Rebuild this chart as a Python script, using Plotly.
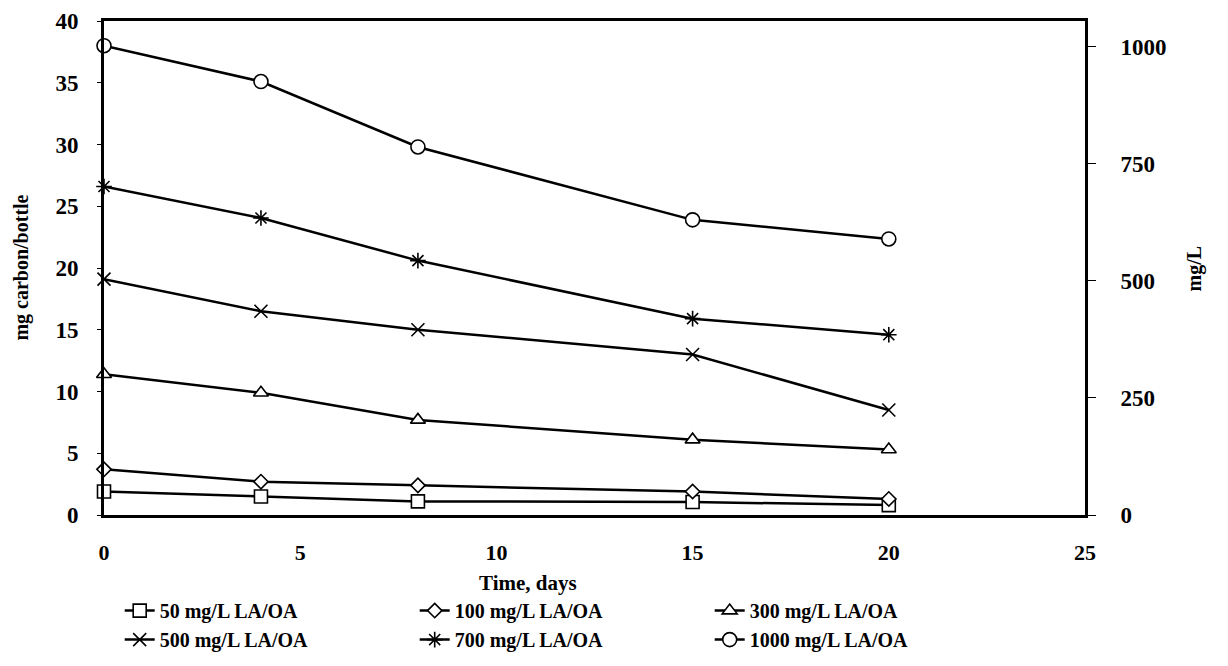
import plotly.graph_objects as go

days = [0, 4, 8, 15, 20]
names = ["50 mg/L LA/OA", "100 mg/L LA/OA", "300 mg/L LA/OA",
         "500 mg/L LA/OA", "700 mg/L LA/OA", "1000 mg/L LA/OA"]
c50 = [1.9, 1.5, 1.1, 1.05, 0.8]
c100 = [3.7, 2.7, 2.4, 1.9, 1.3]
c300 = [11.4, 9.9, 7.7, 6.1, 5.3]
c500 = [19.1, 16.5, 15.0, 13.0, 8.5]
c700 = [26.6, 24.05, 20.6, 15.9, 14.6]
c1000 = [38.0, 35.1, 29.8, 23.9, 22.35]
series = [c50, c100, c300, c500, c700, c1000]
symbols = ["square", "diamond", "triangle-up", "x-thin", "asterisk", "circle"]
sizes = [13, 11, 13, 13, 13, 14]
fills = ["white", "white", "white", "black", "black", "white"]

FONT = "Liberation Serif"
fig = go.Figure()
for nm, vals, sym, sz, fc in zip(names, series, symbols, sizes, fills):
    fig.add_trace(go.Scatter(
        x=days, y=vals, name=nm, mode="lines+markers",
        line=dict(color="black", width=2.5),
        marker=dict(symbol=sym, size=sz, color=fc,
                    line=dict(color="black", width=1.6)),
        cliponaxis=False,
    ))
# secondary axis carrier
fig.add_trace(go.Scatter(x=[0], y=[0], yaxis="y2", mode="markers",
                         marker=dict(opacity=0), showlegend=False, hoverinfo="skip"))

fig.update_layout(
    width=1228, height=666,
    margin=dict(l=104, r=143, t=21, b=151, autoexpand=False),
    paper_bgcolor="white", plot_bgcolor="white",
    font=dict(family=FONT, color="black"),
    showlegend=True,
    legend=dict(orientation="h", x=0.016, y=-0.154, xanchor="left", yanchor="top",
                entrywidth=250, entrywidthmode="pixels",
                font=dict(family=FONT, size=20, weight="bold"),
                tracegroupgap=0, itemwidth=30),
    xaxis=dict(range=[0, 25], tickvals=[0, 5, 10, 15, 20, 25], showgrid=False,
               zeroline=False, showline=True, linecolor="black", linewidth=3,
               mirror=True, ticks="", ticklabelstandoff=16,
               tickfont=dict(family=FONT, size=22, weight="bold")),
    yaxis=dict(range=[0, 40], tickvals=list(range(0, 41, 5)), showgrid=False,
               zeroline=False, showline=True, linecolor="black", linewidth=3,
               ticks="outside", ticklen=4, tickwidth=1, tickcolor="black",
               ticklabelstandoff=14,
               tickfont=dict(family=FONT, size=23, weight="bold")),
    yaxis2=dict(range=[0, 1055], tickvals=[0, 250, 500, 750, 1000], overlaying="y",
                side="right", showgrid=False, zeroline=False, showline=True,
                linecolor="black", linewidth=3, ticks="outside", ticklen=8,
                tickwidth=1, tickcolor="black", ticklabelstandoff=20,
                tickfont=dict(family=FONT, size=23, weight="bold")),
    annotations=[
        dict(text="Time, days", xref="paper", yref="paper",
             x=0.432, y=-0.137, xanchor="center", yanchor="middle",
             showarrow=False, font=dict(family=FONT, size=21, weight="bold")),
        dict(text="mg carbon/bottle", xref="paper", yref="paper",
             x=-0.085, y=0.5, xanchor="center", yanchor="middle", textangle=-90,
             showarrow=False, font=dict(family=FONT, size=20, weight="bold")),
        dict(text="mg/L", xref="paper", yref="paper",
             x=1.1115, y=0.5, xanchor="center", yanchor="middle", textangle=-90,
             showarrow=False, font=dict(family=FONT, size=20, weight="bold")),
    ],
)
fig.write_html("out.html")
